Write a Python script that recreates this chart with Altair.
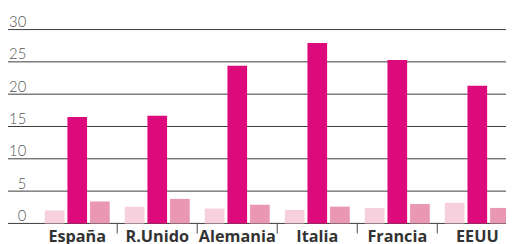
import altair as alt
import pandas as pd

categorias = ["España", "R.Unido", "Alemania", "Italia", "Francia", "EEUU"]
series = ["Serie 1", "Serie 2", "Serie 3"]
serie_1 = [2.0, 2.6, 2.3, 2.1, 2.4, 3.2]
serie_2 = [16.45, 16.65, 24.4, 27.9, 25.3, 21.3]
serie_3 = [3.4, 3.8, 2.9, 2.6, 3.0, 2.4]
colores = ["#F6D0DC", "#DD0A7B", "#E997B3"]
y_ticks = [0, 5, 10, 15, 20, 25, 30]

rows = []
for s, vals in zip(series, [serie_1, serie_2, serie_3]):
    for c, v in zip(categorias, vals):
        rows.append({"categoria": c, "serie": s, "valor": v})
df = pd.DataFrame(rows)
df_ticks = pd.DataFrame({"categoria": categorias[1:]})
df_grid = pd.DataFrame({"valor": y_ticks})

x_scale = alt.Scale(domain=categorias, range=[29.7, 517.5], paddingInner=0, paddingOuter=0)
x_axis = alt.Axis(
    title=None, ticks=False, domain=False, labelAngle=0,
    labelFont="Open Sans", labelFontWeight="bold", labelFontSize=16.5,
    labelColor="#333333", labelPadding=5, labelBaseline="top",
)
y_scale = alt.Scale(domain=[0, 30], nice=False)
y_axis = alt.Axis(
    title=None, values=y_ticks, ticks=False, domain=False, grid=False,
    labelAlign="right", labelPadding=-18, labelBaseline="alphabetic",
    labelOffset=-3, labelFont="Lato", labelFontWeight=300,
    labelFontSize=15, labelColor="#555555",
)

grid = alt.Chart(df_grid).mark_rule(color="#3a3a3a", strokeWidth=1).encode(
    y=alt.Y("valor:Q", scale=y_scale, axis=y_axis),
    x=alt.value(0),
    x2=alt.value(506),
)

bars = alt.Chart(df).mark_bar().encode(
    x=alt.X("categoria:N", scale=x_scale, axis=x_axis, sort=categorias),
    xOffset=alt.XOffset("serie:N", scale=alt.Scale(domain=series, paddingInner=0.1304, paddingOuter=0.333)),
    y=alt.Y("valor:Q", scale=y_scale, axis=y_axis),
    color=alt.Color("serie:N", scale=alt.Scale(domain=series, range=colores), legend=None),
)

ticks = alt.Chart(df_ticks).mark_rule(color="#666666", strokeWidth=1.2).encode(
    x=alt.X("categoria:N", scale=x_scale, axis=x_axis, sort=categorias, bandPosition=0),
    y=alt.Y(datum=0.1, scale=y_scale, axis=y_axis),
    y2=alt.Y2(datum=-1.55),
)

chart = alt.layer(grid, bars, ticks).properties(
    width=506, height=197,
    autosize=alt.AutoSizeParams(type="none"),
    padding={"left": 0, "top": 20, "right": 0, "bottom": 19},
).configure_view(stroke=None)

chart.save("out.html", embed_options={"renderer": "svg", "actions": False})
